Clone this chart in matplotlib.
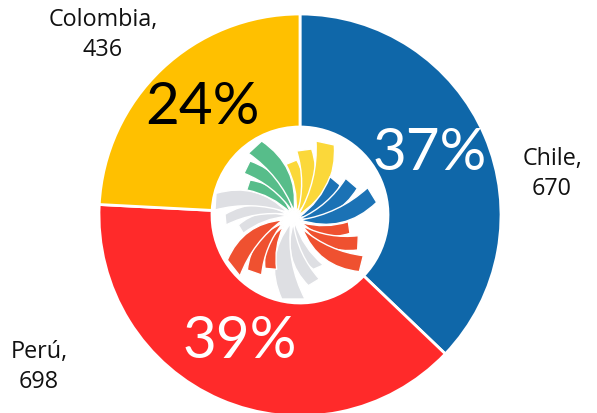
"""Donut chart of regional totals with the alliance logo in the hole."""

import matplotlib

matplotlib.use("Agg")
import matplotlib.pyplot as plt
from matplotlib.patches import PathPatch
from matplotlib.path import Path

W, H = 597, 413

countries = ["Chile", "Perú", "Colombia"]
values = [670, 698, 436]
percents = ["37%", "39%", "24%"]
colors = ["#0F67A9", "#FF2A2A", "#FFC000"]
pct_colors = ["white", "white", "black"]

# logo petals: colour, tip, then the two outer corners (crop coords)
GREEN, YELLOW, BLUE = "#57BD8A", "#FBD83A", "#1B72B5"
ORANGE, GREY = "#EF5130", "#DEDFE3"
PETALS = [
    (GREY, (262, 274), (115, 300), (130, 325)),
    (GREY, (262, 268), (75, 268), (78, 300)),
    (GREY, (262, 262), (48, 205), (45, 255)),
    (GREY, (285, 292), (340, 433), (370, 420)),
    (GREY, (280, 295), (325, 482), (358, 462)),
    (GREY, (272, 295), (245, 522), (315, 522)),
    (GREEN, (272, 264), (150, 165), (140, 195)),
    (GREEN, (278, 260), (150, 108), (132, 145)),
    (GREEN, (282, 258), (185, 48), (145, 85)),
    (YELLOW, (288, 262), (258, 118), (290, 105)),
    (YELLOW, (292, 265), (290, 78), (335, 72)),
    (YELLOW, (295, 270), (348, 48), (403, 60)),
    (BLUE, (295, 278), (390, 155), (420, 180)),
    (BLUE, (298, 282), (437, 160), (472, 190)),
    (BLUE, (300, 285), (503, 188), (530, 232)),
    (ORANGE, (305, 293), (445, 290), (450, 325)),
    (ORANGE, (308, 303), (475, 332), (473, 375)),
    (ORANGE, (308, 312), (490, 392), (478, 440)),
    (ORANGE, (250, 305), (195, 430), (230, 433)),
    (ORANGE, (248, 295), (142, 435), (185, 450)),
    (ORANGE, (248, 285), (82, 405), (120, 453)),
]


def bow_control(tip, corner, k):
    # quadratic control point bowed counter-clockwise along the spiral
    vx, vy = corner[0] - tip[0], corner[1] - tip[1]
    return (tip[0] + vx / 2 - vy * k, tip[1] + vy / 2 + vx * k)


def draw_logo(fig):
    ax = fig.add_axes([200 / W, 1 - 315 / H, 190 / W, 190 / H])
    ax.set_xlim(0, 570)
    ax.set_ylim(570, 0)
    ax.axis("off")
    codes = [Path.MOVETO, Path.CURVE3, Path.CURVE3, Path.LINETO,
             Path.CURVE3, Path.CURVE3, Path.CLOSEPOLY]
    for color, tip, a, b in PETALS:
        vx, vy = a[0] - tip[0], a[1] - tip[1]
        # the corner further along the bow side gets the stronger curve
        if (a[0] - b[0]) * -vy + (a[1] - b[1]) * vx < 0:
            a, b = b, a
        c1 = bow_control(tip, a, 0.3)
        c2 = bow_control(tip, b, 0.15)
        verts = [tip, c1, a, b, c2, tip, tip]
        ax.add_patch(PathPatch(Path(verts, codes), facecolor=color,
                               edgecolor="white", lw=1.0, joinstyle="round"))


def main():
    plt.rcParams["font.family"] = ["Lato", "DejaVu Sans"]
    fig = plt.figure(figsize=(W / 100, H / 100), dpi=100)
    fig.patch.set_facecolor("white")
    ax = fig.add_axes([0, 0, 1, 1])

    ax.pie(
        values, colors=colors, startangle=90, counterclock=False,
        radius=201, center=(300, H - 215), frame=True,
        wedgeprops={"width": 113, "edgecolor": "white", "linewidth": 2},
    )
    ax.set_xlim(0, W)
    ax.set_ylim(0, H)
    ax.set_aspect("equal")
    ax.axis("off")

    label_pos = [(552, 174), (39, 367), (103, 35)]
    pct_pos = [(430, 153), (240, 341), (202, 107)]
    for i, name in enumerate(countries):
        ax.text(label_pos[i][0], H - label_pos[i][1], f"{name},\n{values[i]}",
                ha="center", va="center", fontsize=16.8, color="#111111",
                linespacing=1.38, family="Open Sans")
        ax.text(pct_pos[i][0], H - pct_pos[i][1], percents[i], ha="center",
                va="center", fontsize=42, color=pct_colors[i])

    draw_logo(fig)
    fig.savefig("out.png", dpi=100)
    plt.close(fig)


if __name__ == "__main__":
    main()
